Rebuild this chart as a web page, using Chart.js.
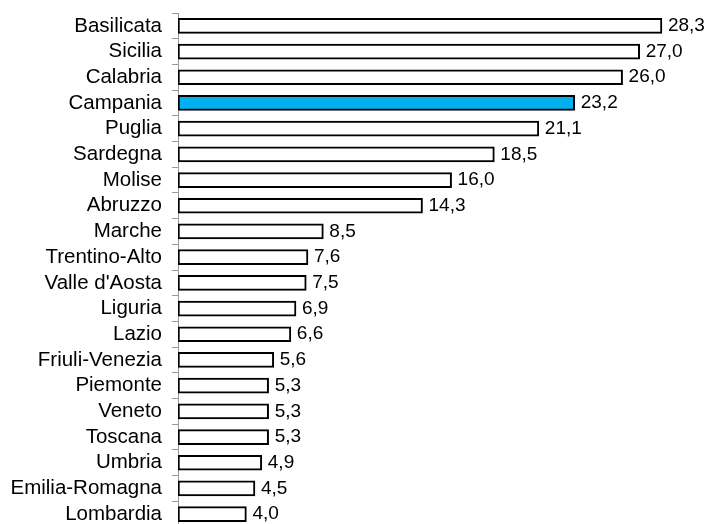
<!DOCTYPE html>
<html>
<head>
<meta charset="utf-8">
<script src="https://cdn.jsdelivr.net/npm/chart.js@4"></script>
<style>
  html, body { margin: 0; padding: 0; background: #fff; overflow: hidden; }
  #wrap { position: relative; width: 712px; height: 540px; }
</style>
</head>
<body>
<div id="wrap"><canvas id="barChart"></canvas></div>
<script>
'use strict';

const regions = ['Basilicata', 'Sicilia', 'Calabria', 'Campania', 'Puglia', 'Sardegna', 'Molise', 'Abruzzo',
  'Marche', 'Trentino-Alto', "Valle d'Aosta", 'Liguria', 'Lazio', 'Friuli-Venezia', 'Piemonte', 'Veneto',
  'Toscana', 'Umbria', 'Emilia-Romagna', 'Lombardia'];
const values = [28.3, 27.0, 26.0, 23.2, 21.1, 18.5, 16.0, 14.3, 8.5, 7.6, 7.5, 6.9, 6.6, 5.6, 5.3, 5.3, 5.3, 4.9, 4.5, 4.0];
const highlight = 'Campania';

const FONT = '"Liberation Sans", Arial, sans-serif';

// numeri sulla destra delle barre, con la virgola
const valueLabels = {
  id: 'valueLabels',
  afterDatasetsDraw(chart) {
    const ctx = chart.ctx;
    const meta = chart.getDatasetMeta(0);
    ctx.save();
    ctx.font = '19px ' + FONT;
    ctx.fillStyle = '#000';
    ctx.textAlign = 'left';
    ctx.textBaseline = 'middle';
    meta.data.forEach(function(bar, i) {
      const txt = values[i].toFixed(1).replace('.', ',');
      ctx.fillText(txt, bar.x + 6, bar.y);
    });
    ctx.restore();
  }
};

const context = document.querySelector('#barChart').getContext('2d');
new Chart(context, {
  type: 'bar',
  data: {
    labels: regions,
    datasets: [{
      data: values,
      backgroundColor: regions.map(function(r) { return r === highlight ? '#00B0F0' : '#ffffff'; }),
      borderColor: '#000',
      borderWidth: 2,
      borderSkipped: false,
      barThickness: 15
    }]
  },
  options: {
    indexAxis: 'y',
    responsive: true,
    maintainAspectRatio: false,
    animation: false,
    layout: { padding: { top: 13, bottom: 13, right: 21, left: 0 } },
    plugins: { legend: { display: false }, tooltip: { enabled: false } },
    scales: {
      x: { display: false, min: 0, max: 30 },
      y: {
        afterFit: function(scale) {
          scale.width = 178;
          scale.paddingTop = 0;
          scale.paddingBottom = 0;
        },
        grid: {
          drawOnChartArea: false,
          offset: true,
          tickLength: 6,
          color: '#999',
          tickColor: '#999'
        },
        border: { color: '#999', width: 1 },
        ticks: {
          autoSkip: false,
          color: '#000',
          padding: 10,
          font: { family: FONT, size: 20.5 }
        }
      }
    }
  },
  plugins: [valueLabels]
});
</script>
</body>
</html>
